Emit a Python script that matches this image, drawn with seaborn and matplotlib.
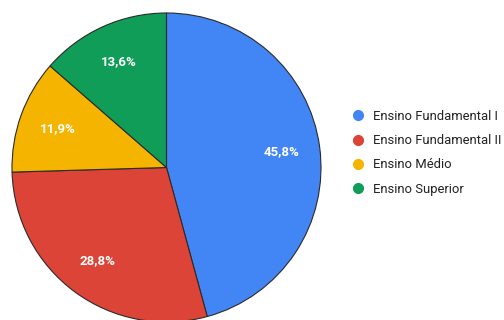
import matplotlib
matplotlib.use("Agg")
import matplotlib.pyplot as plt
from matplotlib.lines import Line2D
import seaborn as sns

categories = ["Ensino Fundamental I", "Ensino Fundamental II", "Ensino Médio", "Ensino Superior"]
shares = [45.8, 28.8, 11.9, 13.6]
colors = ["#4285F4", "#DB4437", "#F4B400", "#0F9D58"]

sns.set_style("white")
plt.rcParams["font.family"] = ["Roboto", "DejaVu Sans"]

W, H = 504, 320
fig = plt.figure(figsize=(W / 100, H / 100), dpi=100)
fig.patch.set_facecolor("white")

# square axes holding the pie (pixel-based placement)
cx, cy, r = 166.5, 167.5, 154.5
ax = fig.add_axes([(cx - r) / W, (H - cy - r) / H, 2 * r / W, 2 * r / H])
wedges, _, autotexts = ax.pie(
    shares,
    colors=colors,
    startangle=90,
    counterclock=False,
    autopct=lambda p: f"{p:.1f}",
    pctdistance=0.75,
    wedgeprops=dict(edgecolor="#2b2b2b", linewidth=0.8),
    textprops=dict(color="white", fontsize=9.5, fontweight="bold"),
)
for t, v in zip(autotexts, shares):
    t.set_text(f"{v:.1f}%".replace(".", ","))
ax.set_xlim(-1, 1)
ax.set_ylim(-1, 1)
ax.set_aspect("equal")
ax.axis("off")

handles = [Line2D([0], [0], marker="o", linestyle="", markersize=7,
                  markerfacecolor=c, markeredgecolor=c) for c in colors]
fig.legend(handles, categories, loc="upper left",
           bbox_to_anchor=(353 / W, 1 - 110 / H),
           frameon=False, fontsize=9.4, labelcolor="#222222",
           handlelength=0.8, handletextpad=0.75, labelspacing=0.86,
           borderaxespad=0, borderpad=0)

fig.savefig("out.png", dpi=100, facecolor="white")
